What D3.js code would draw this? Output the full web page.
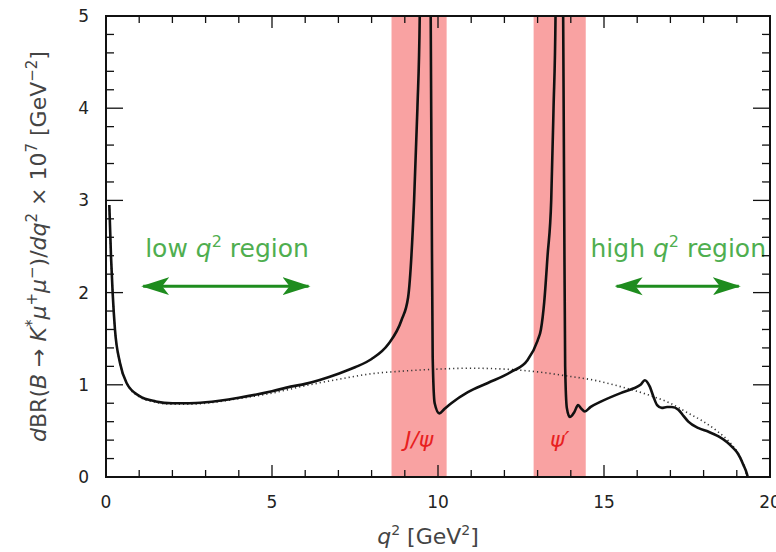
<!DOCTYPE html>
<meta charset="utf-8">
<style>
body { margin: 0; background: #fff; }
svg { font-family: "DejaVu Sans", sans-serif; }
.tick-label { font-size: 17px; fill: #222; }
.axis-title { font-size: 22px; fill: #444; }
.region { font-size: 25px; fill: #4fae4f; }
.res-label { font-size: 22px; fill: #e82020; font-style: italic; }
.band { fill: #f9a2a2; }
.total { fill: none; stroke: #111; stroke-width: 2.6px; }
.nonres { fill: none; stroke: #333; stroke-width: 1.6px; stroke-dasharray: 1.2 3; }
.frame { fill: none; stroke: #111; stroke-width: 2px; }
.ticks line { stroke: #111; stroke-width: 1.3px; }
</style>
<svg></svg>
<script src="https://d3js.org/d3.v7.min.js"></script>
<script>

// q^2 in GeV^2, dBR/dq^2 x 10^7 in GeV^-2
var totalQ2 = [0.1, 0.15, 0.2, 0.27, 0.42, 0.62, 1.0, 1.5, 2.0, 2.5, 3.0, 4.0, 5.0, 5.56, 6.0, 7.0, 7.5, 8.0, 8.5, 8.9, 9.1, 9.28, 9.38, 9.45, 9.46,
  9.76, 9.78, 9.81, 9.84, 9.9, 10.04, 10.2, 10.4, 10.9, 11.5, 12.2, 12.7, 13.0, 13.1, 13.2, 13.3, 13.41, 13.48, 13.54, 13.55,
  13.75, 13.77, 13.8, 13.83, 13.88, 13.97, 14.1, 14.22, 14.32, 14.42, 14.6, 14.92, 15.5, 15.88, 16.1, 16.23, 16.38, 16.5, 16.6,
  16.74, 16.9, 17.04, 17.24, 17.4, 17.54, 17.85, 18.15, 18.45, 18.7, 18.85, 19.0, 19.1, 19.2, 19.3, 19.33];
var totalBR = [2.95, 2.4, 2.0, 1.6, 1.24, 1.02, 0.88, 0.82, 0.8, 0.8, 0.81, 0.86, 0.93, 0.98, 1.01, 1.12, 1.19, 1.28, 1.44, 1.7, 1.95, 3.0, 4.0, 5.0, 6.0,
  6.0, 5.0, 3.0, 1.3, 0.8, 0.69, 0.74, 0.8, 0.92, 1.02, 1.14, 1.27, 1.48, 1.6, 1.9, 2.4, 3.0, 4.0, 5.0, 6.0,
  6.0, 5.0, 3.0, 1.2, 0.75, 0.65, 0.7, 0.78, 0.74, 0.71, 0.76, 0.82, 0.91, 0.96, 1.0, 1.05, 0.98, 0.86, 0.78,
  0.75, 0.76, 0.76, 0.73, 0.66, 0.6, 0.53, 0.49, 0.44, 0.38, 0.33, 0.27, 0.21, 0.13, 0.04, 0];

var nonresQ2 = [0.1, 0.15, 0.2, 0.27, 0.42, 0.62, 1.0, 1.5, 2.0, 2.5, 3.0, 4.0, 5.0, 6.0, 7.0, 8.0, 9.0, 10.0, 11.0, 12.0, 13.0, 14.0,
  14.7, 15.5, 16.5, 17.0, 17.5, 18.0, 18.4, 18.85, 19.1, 19.25, 19.3];
var nonresBR = [2.95, 2.4, 2.0, 1.6, 1.24, 1.02, 0.87, 0.81, 0.79, 0.79, 0.8, 0.85, 0.91, 0.99, 1.06, 1.12, 1.15, 1.17, 1.18, 1.17, 1.14, 1.09,
  1.05, 0.98, 0.87, 0.8, 0.7, 0.6, 0.5, 0.35, 0.22, 0.08, 0];

// charmonium veto bands
var bandNames = ['J/\u03c8', '\u03c8\u2032'];
var bandLow = [8.6, 12.88];
var bandHigh = [10.26, 14.45];

// kinematic regions marked by arrows
var regionNames = ['low', 'high'];
var regionFrom = [1.12, 15.38];
var regionTo = [6.1, 19.06];

var xMajor = [0, 5, 10, 15, 20];
var yMajor = [0, 1, 2, 3, 4, 5];

var margin = { top: 16, right: 6, bottom: 75, left: 106 };
var width = 776 - margin.left - margin.right;
var height = 552 - margin.top - margin.bottom;

var x = d3.scaleLinear().domain([0, 20]).range([0, width]);
var y = d3.scaleLinear().domain([0, 5]).range([height, 0]);

var svg = d3.select('svg')
  .attr('width', 776)
  .attr('height', 552);

svg.append('defs').append('clipPath')
  .attr('id', 'plot-clip')
  .append('rect')
  .attr('width', width)
  .attr('height', height);

svg.select('defs').append('marker')
  .attr('id', 'head')
  .attr('viewBox', '0 0 28 20')
  .attr('refX', 26)
  .attr('refY', 10)
  .attr('markerWidth', 28)
  .attr('markerHeight', 20)
  .attr('markerUnits', 'userSpaceOnUse')
  .attr('orient', 'auto-start-reverse')
  .append('path')
  .attr('d', 'M0,1 L28,10 L0,19 L7,10 Z')
  .attr('fill', '#1e8c1e');

var g = svg.append('g')
  .attr('transform', 'translate(' + margin.left + ',' + margin.top + ')');

// bands
g.selectAll('.band')
  .data(bandNames)
  .enter().append('rect')
  .attr('class', 'band')
  .attr('x', function (d, i) { return x(bandLow[i]); })
  .attr('width', function (d, i) { return x(bandHigh[i]) - x(bandLow[i]); })
  .attr('y', 0)
  .attr('height', height);

g.selectAll('.res-label')
  .data(bandNames)
  .enter().append('text')
  .attr('class', 'res-label')
  .attr('x', function (d, i) { return x((bandLow[i] + bandHigh[i]) / 2); })
  .attr('y', y(0.32))
  .attr('text-anchor', 'middle')
  .text(function (d) { return d; });

// curves
var line = d3.line()
  .x(function (d) { return x(d[0]); })
  .y(function (d) { return y(d[1]); })
  .curve(d3.curveMonotoneX);

var plot = g.append('g').attr('clip-path', 'url(#plot-clip)');

plot.append('path')
  .attr('class', 'nonres')
  .attr('d', line(d3.zip(nonresQ2, nonresBR)));

plot.append('path')
  .attr('class', 'total')
  .attr('d', line(d3.zip(totalQ2, totalBR)));

// region arrows
g.selectAll('.region-arrow')
  .data(regionNames)
  .enter().append('line')
  .attr('class', 'region-arrow')
  .attr('x1', function (d, i) { return x(regionFrom[i]); })
  .attr('x2', function (d, i) { return x(regionTo[i]); })
  .attr('y1', y(2.07))
  .attr('y2', y(2.07))
  .attr('stroke', '#1e8c1e')
  .attr('stroke-width', 3)
  .attr('marker-start', 'url(#head)')
  .attr('marker-end', 'url(#head)');

var regionText = g.selectAll('.region')
  .data(regionNames)
  .enter().append('text')
  .attr('class', 'region')
  .attr('x', function (d, i) { return i === 0 ? x(regionFrom[i]) + 2 : x(20) - 4; })
  .attr('y', y(2.39))
  .attr('text-anchor', function (d, i) { return i === 0 ? 'start' : 'end'; });
regionText.append('tspan').text(function (d) { return d + ' '; });
regionText.append('tspan').attr('font-style', 'italic').text('q');
regionText.append('tspan').attr('font-size', '16px').attr('dy', -10).text('2');
regionText.append('tspan').attr('dy', 10).text(' region');

// frame and ticks
g.append('rect')
  .attr('class', 'frame')
  .attr('width', width)
  .attr('height', height);

var ticks = g.append('g').attr('class', 'ticks');
var xt = d3.range(0, 21, 1);
var yt = d3.range(0, 26, 1).map(function (k) { return k / 5; });

xt.forEach(function (t) {
  var len = t % 5 === 0 ? 12 : 7;
  ticks.append('line').attr('x1', x(t)).attr('x2', x(t)).attr('y1', height).attr('y2', height - len);
  ticks.append('line').attr('x1', x(t)).attr('x2', x(t)).attr('y1', 0).attr('y2', len);
});
yt.forEach(function (t) {
  var len = Math.abs(t - Math.round(t)) < 1e-6 ? 17 : 8;
  ticks.append('line').attr('y1', y(t)).attr('y2', y(t)).attr('x1', 0).attr('x2', len);
  ticks.append('line').attr('y1', y(t)).attr('y2', y(t)).attr('x1', width).attr('x2', width - len);
});

g.selectAll('.xlab')
  .data(xMajor)
  .enter().append('text')
  .attr('class', 'tick-label')
  .attr('x', function (d) { return x(d); })
  .attr('y', height + 31)
  .attr('text-anchor', 'middle')
  .text(function (d) { return d; });

g.selectAll('.ylab')
  .data(yMajor)
  .enter().append('text')
  .attr('class', 'tick-label')
  .attr('x', -17)
  .attr('y', function (d) { return y(d) + 6; })
  .attr('text-anchor', 'end')
  .text(function (d) { return d; });

// axis titles
var xt1 = g.append('text')
  .attr('class', 'axis-title')
  .attr('x', x(9.7))
  .attr('y', height + 67)
  .attr('text-anchor', 'middle');
xt1.append('tspan').attr('font-style', 'italic').text('q');
xt1.append('tspan').attr('font-size', '14px').attr('dy', -9).text('2');
xt1.append('tspan').attr('dy', 9).text(' [GeV');
xt1.append('tspan').attr('font-size', '14px').attr('dy', -9).text('2');
xt1.append('tspan').attr('dy', 9).text(']');

var yt1 = svg.append('text')
  .attr('class', 'axis-title')
  .attr('font-size', '23px')
  .attr('transform', 'translate(46,' + (margin.top + height / 2) + ') rotate(-90)')
  .attr('text-anchor', 'middle');
yt1.append('tspan').attr('font-style', 'italic').text('d');
yt1.append('tspan').text('BR(');
yt1.append('tspan').attr('font-style', 'italic').text('B');
yt1.append('tspan').text(' \u2192 ');
yt1.append('tspan').attr('font-style', 'italic').text('K');
yt1.append('tspan').attr('font-size', '15px').attr('dy', -9).text('*');
yt1.append('tspan').attr('font-style', 'italic').attr('dy', 9).text('\u03bc');
yt1.append('tspan').attr('font-size', '15px').attr('dy', -9).text('+');
yt1.append('tspan').attr('font-style', 'italic').attr('dy', 9).text('\u03bc');
yt1.append('tspan').attr('font-size', '15px').attr('dy', -9).text('\u2212');
yt1.append('tspan').attr('dy', 9).text(')/');
yt1.append('tspan').attr('font-style', 'italic').text('dq');
yt1.append('tspan').attr('font-size', '15px').attr('dy', -9).text('2');
yt1.append('tspan').attr('dy', 9).text(' \u00d7 10');
yt1.append('tspan').attr('font-size', '15px').attr('dy', -9).text('7');
yt1.append('tspan').attr('dy', 9).text(' [GeV');
yt1.append('tspan').attr('font-size', '15px').attr('dy', -9).text('\u22122');
yt1.append('tspan').attr('dy', 9).text(']');

</script>
